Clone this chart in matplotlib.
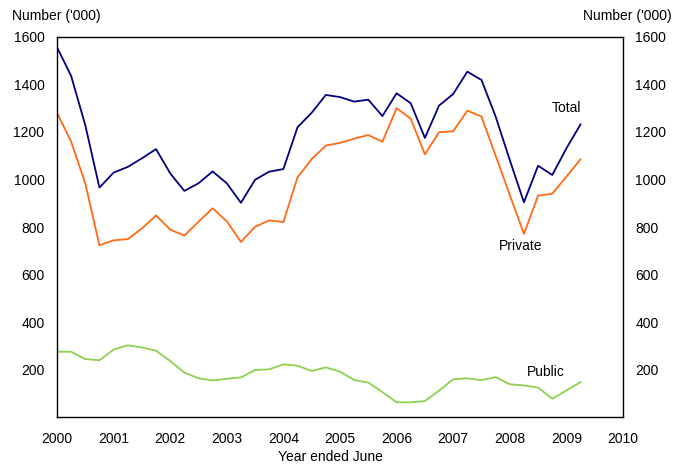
import numpy as np
import matplotlib.pyplot as plt

plt.rcParams['font.family'] = ['Liberation Sans', 'DejaVu Sans']

# quarterly, year ended June
years = 2000 + np.arange(38) * 0.25

total = [1557, 1436, 1229, 966, 1029, 1053, 1089, 1128, 1026, 952,
         984, 1034, 984, 902, 999, 1033, 1044, 1220, 1281, 1356,
         1347, 1328, 1336, 1267, 1363, 1321, 1175, 1311, 1360, 1454,
         1419, 1265, 1082, 904, 1058, 1019, 1131, 1232]
private = [1281, 1159, 984, 723, 744, 749, 794, 849, 789, 764,
           822, 879, 824, 737, 801, 828, 821, 1009, 1086, 1143,
           1154, 1172, 1187, 1159, 1300, 1256, 1106, 1199, 1203, 1290,
           1265, 1100, 935, 771, 932, 940, 1012, 1085]
public = [275, 275, 244, 239, 284, 302, 293, 279, 236, 187,
          163, 154, 161, 167, 198, 201, 222, 216, 194, 209,
          191, 156, 145, 105, 62, 62, 67, 111, 159, 163,
          155, 168, 138, 133, 124, 77, 112, 147]

xticks = list(range(2000, 2011))
yticks = [200, 400, 600, 800, 1000, 1200, 1400, 1600]

fig = plt.figure(figsize=(6.84, 4.67), dpi=100)
ax = fig.add_axes([0.0833, 0.107, 0.8275, 0.8138])

ax.plot(years, total, color='#000080', lw=1.3)
ax.plot(years, private, color='#FF6A13', lw=1.3)
ax.plot(years, public, color='#8CD150', lw=1.3)

ax.set_xlim(2000, 2010)
ax.set_ylim(0, 1600)
ax.set_xticks(xticks)
ax.set_yticks(yticks)
ax.tick_params(length=0, labelsize=10)
ax.tick_params(axis='x', pad=11)
ax.tick_params(axis='y', labelright=True, pad=9)
for s in ax.spines.values():
    s.set_linewidth(1.0)

ax.set_xlabel("Year ended June", fontsize=10)
ax.xaxis.set_label_coords(0.483, -0.088)

fig.text(0.018, 0.966, "Number ('000)", fontsize=10, va='center', ha='left')
fig.text(0.982, 0.966, "Number ('000)", fontsize=10, va='center', ha='right')

ax.text(2008.75, 1300, "Total", fontsize=10, ha='left', va='center')
ax.text(2007.8, 720, "Private", fontsize=10, ha='left', va='center')
ax.text(2008.3, 190, "Public", fontsize=10, ha='left', va='center')

fig.savefig('out.png', dpi=100)
